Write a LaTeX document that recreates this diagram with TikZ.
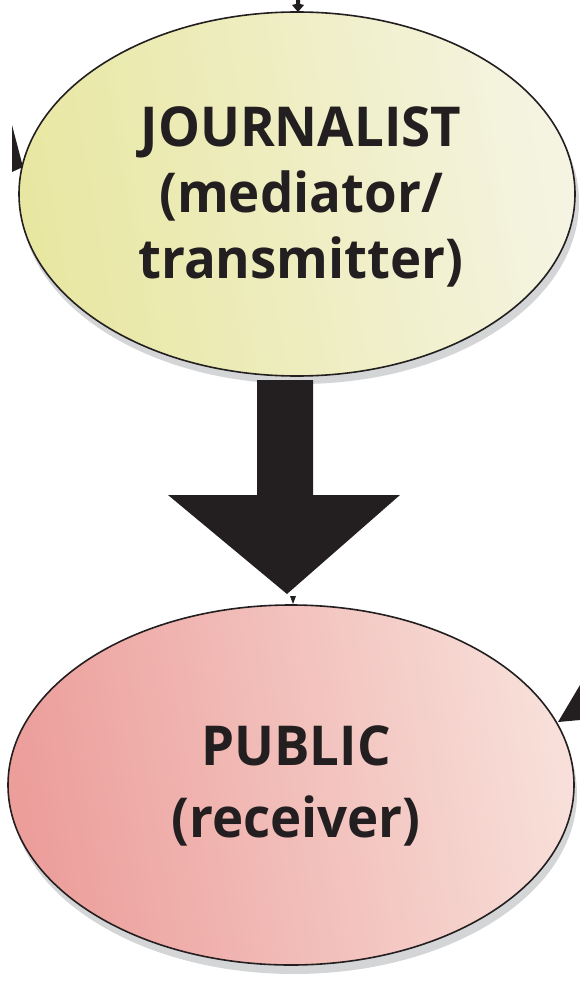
\documentclass[tikz,border=0pt]{standalone}
\usepackage{fontspec}
\setmainfont[FakeStretch=0.96]{Open Sans}
\usetikzlibrary{shapes.geometric}
\definecolor{yelL}{HTML}{E8E7A2}
\definecolor{yelR}{HTML}{F5F4E2}
\definecolor{pinkL}{HTML}{EC9E9B}
\definecolor{pinkR}{HTML}{F8DFD9}
\definecolor{inkc}{HTML}{231F20}
\definecolor{shadowc}{HTML}{D4D5D6}
\begin{document}
\begin{tikzpicture}[x=1pt,y=-1pt,
  bubble/.style={ellipse, draw=inkc, line width=1.6pt, inner sep=0pt},
  lbl/.style={font=\fontsize{55}{60}\selectfont\bfseries, text=inkc, inner sep=0pt, anchor=base},
  tipmark/.style={fill=inkc, draw=none}]
\useasboundingbox (0,0) rectangle (580,987);
% shadows
\begin{scope}
  \clip (0,0) rectangle (580,385);
  \fill[shadowc] (300,202) ellipse [x radius=279pt, y radius=182pt];
\end{scope}
\begin{scope}
  \clip (0,600) rectangle (580,987);
  \fill[shadowc] (294,794) ellipse [x radius=283pt, y radius=180pt];
\end{scope}
% ellipses
\node[bubble, minimum width=556pt, minimum height=364pt, left color=yelL, right color=yelR, shading angle=100] (jour) at (297,194) {};
\node[bubble, minimum width=566pt, minimum height=360pt, left color=pinkL, right color=pinkR, shading angle=100] (pub) at (291,785) {};
% texts
\node[lbl] (j1) at (301,147) {JOURNALIST};
\node[lbl] (j2) at (301,212) {(mediator/};
\node[lbl] (j3) at (301,278) {transmitter)};
\node[lbl] (p1) at (296,765) {PUBLIC};
\node[lbl] (p2) at (296,837) {(receiver)};
% big arrow from journalist to public
\fill[inkc] (257,380) -- (313,380) -- (313,495) -- (400,495) -- (287,594) -- (168,495) -- (257,495) -- cycle;
% small tip marks
\fill[tipmark] (290,596) -- (296,596) -- (293,604) -- cycle;
\fill[tipmark] (296,0) -- (300,0) -- (300,4) -- (304,5) -- (298,12) -- (292,5) -- (296,4) -- cycle;
\fill[tipmark] (12,125) -- (23,167) -- (12,172) -- cycle;
\fill[tipmark] (558,722) -- (580,685) -- (580,720) -- cycle;
\end{tikzpicture}
\end{document}
